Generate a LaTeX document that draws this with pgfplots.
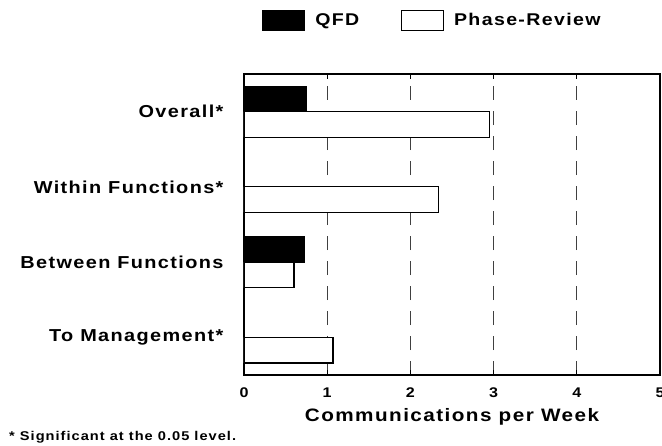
\documentclass[border=0pt]{standalone}
\usepackage{fontspec}
\setmainfont[FakeStretch=1.15, LetterSpace=8]{Liberation Sans}
\usepackage{pgfplots}
\pgfplotsset{compat=1.18}
\begin{document}
\begin{tikzpicture}[x=1pt,y=1pt]
\begin{axis}[
  at={(0pt,0pt)}, anchor=south west,
  scale only axis, width=416pt, height=301pt,
  xbar, bar width=0.34,
  xmin=0, xmax=5, ymin=-0.5, ymax=3.5,
  xtick={0,1,2,3,4,5},
  ytick={0,1,2,3},
  yticklabels={To Management*, Between Functions, Within Functions*, Overall*},
  font=\bfseries,
  /pgf/number format/assume math mode=true,
  xticklabel style={font=\fontsize{14}{16}\selectfont\bfseries, yshift=-9pt},
  yticklabel style={font=\fontsize{17.3}{20}\selectfont\bfseries, xshift=-12pt},
  xlabel={Communications per Week},
  xlabel style={font=\fontsize{18}{21}\selectfont\bfseries, at={(axis description cs:0.5,0)}, anchor=center, yshift=-42pt},
  axis line style={line width=1.2pt},
  xmajorgrids,
  major grid style={black!75, line width=0.7pt, dash pattern=on 14pt off 11pt},
  x tick style={black, line width=0.8pt}, major tick length=5pt,
  y tick style={draw=none},
  legend columns=2,
  legend style={draw=none, fill=none, font=\fontsize{17}{20}\selectfont\bfseries,
    at={(axis description cs:0.453,1.179)}, anchor=center,
    /tikz/every odd column/.append style={column sep=8pt},
    /tikz/every even column/.append style={column sep=40pt}},
]
\addplot[fill=black, draw=black, line width=1pt, bar shift=0.17,
  legend image code/.code={\draw[fill=black,draw=black] (0pt,-10pt) rectangle (42pt,10pt);}]
  coordinates {(0.75,3) (0,2) (0.73,1) (0,0)};
\addlegendentry{QFD}
\addplot[fill=white, draw=black, line width=1.2pt, bar shift=-0.17,
  legend image code/.code={\draw[fill=white,draw=black,line width=0.8pt] (0pt,-10pt) rectangle (42pt,10pt);}]
  coordinates {(2.95,3) (2.34,2) (0.60,1) (1.07,0)};
\addlegendentry{Phase-Review}
\end{axis}
\node[anchor=west, font=\fontsize{12.7}{14}\selectfont\bfseries, inner sep=0pt] at (-235pt,-62pt) {* Significant at the 0.05 level.};
\pgfresetboundingbox
\path (-244pt,-70pt) rectangle (418pt,375pt);
\end{tikzpicture}
\end{document}
